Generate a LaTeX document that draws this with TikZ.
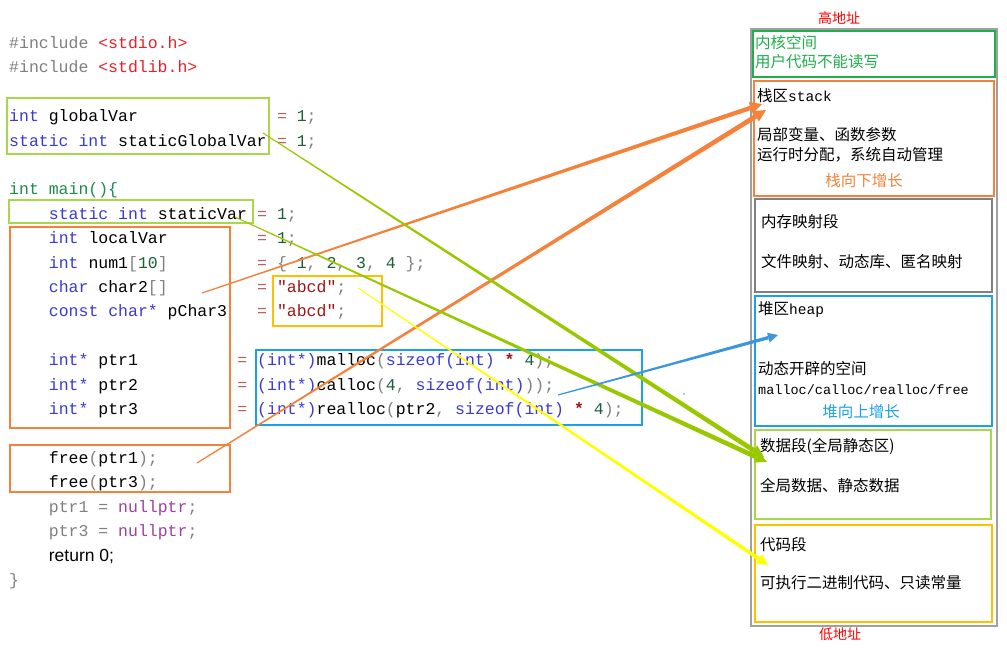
\documentclass[tikz,border=0pt]{standalone}
\usepackage{fontspec}
\usetikzlibrary{calc}
\setmainfont{Liberation Serif}
\newfontfamily\codefont{Liberation Mono}
\newfontfamily\cjk{Noto Sans CJK SC}
\newfontfamily\sansf{Liberation Sans}
\definecolor{kw}{HTML}{3B3BD0}
\definecolor{gr}{HTML}{1E8C4A}
\definecolor{gy}{HTML}{808080}
\definecolor{hd}{HTML}{E8202A}
\definecolor{eqc}{HTML}{B85C5C}
\definecolor{nm}{HTML}{1A5E3A}
\definecolor{st}{HTML}{A31515}
\definecolor{pu}{HTML}{A040A0}
\definecolor{ygreen}{HTML}{A8D84A}
\definecolor{agreen}{HTML}{99C800}
\definecolor{orng}{HTML}{F5823A}
\definecolor{gold}{HTML}{FFC000}
\definecolor{sky}{HTML}{1BA1E6}
\definecolor{kgreen}{HTML}{1FAF4B}
\definecolor{ayellow}{HTML}{FFFF00}
\definecolor{ablue}{HTML}{3C96DC}
\definecolor{outergray}{HTML}{A0A0A0}
\definecolor{mapgray}{HTML}{808080}
\newcommand\ckw[1]{\textcolor{kw}{#1}}
\newcommand\cgy[1]{\textcolor{gy}{#1}}
\newcommand\chd[1]{\textcolor{hd}{#1}}
\newcommand\ceq[1]{\textcolor{eqc}{#1}}
\newcommand\cnm[1]{\textcolor{nm}{#1}}
\newcommand\cst[1]{\textcolor{st}{#1}}
\newcommand\cpu[1]{\textcolor{pu}{#1}}
% tapered arrow: start, end, colour, start half width, end half width, head length, head half width
\newcommand\taper[7]{%
  \coordinate (tmpC) at ($(#2)!#6!(#1)$);
  \fill[#3] ($(#1)!#4!90:(#2)$) -- ($(tmpC)!#5!-90:(#1)$) -- ($(tmpC)!#5!90:(#1)$) -- ($(#1)!#4!-90:(#2)$) -- cycle;
  \fill[#3] ($(tmpC)!#7!-90:(#1)$) -- (#2) -- ($(tmpC)!#7!90:(#1)$) -- cycle;
}
\tikzset{
  code/.style={anchor=base west, inner sep=0pt, font=\codefont\fontsize{16.5}{18}\selectfont},
  cn/.style={anchor=west, inner sep=0pt, font=\cjk\fontsize{15.5}{18}\selectfont},
  cnc/.style={anchor=center, inner sep=0pt, font=\cjk\fontsize{15.5}{18}\selectfont},
  mono/.style={font=\codefont\fontsize{13.5}{16}\selectfont},
  codebox/.style={line width=1.5pt},
  membox/.style={line width=2pt},
}
\begin{document}
\begin{tikzpicture}[x=1pt,y=-1pt]
\useasboundingbox (0,0) rectangle (1007,652);
\fill[white] (0,0) rectangle (1007,652);

% ---------- code boxes ----------
\draw[codebox, ygreen] (7,98) rectangle (269,154);
\draw[codebox, ygreen] (9,200) rectangle (253,223);
\draw[codebox, orng] (10,227) rectangle (230,428);
\draw[codebox, gold] (273,276) rectangle (382,326);
\draw[codebox, sky] (256,350) rectangle (642,425);
\draw[codebox, orng] (10,445) rectangle (230,492);

% ---------- code ----------
\node[code] (l0) at (9,48.5) {\cgy{\#include} \chd{<stdio.h>}};
\node[code] (l1) at (9,72.9) {\cgy{\#include} \chd{<stdlib.h>}};
\node[code] (l3) at (9,121.7) {\ckw{int} globalVar};
\node[code] (e3) at (276.8,121.7) {\ceq{=} \cnm{1}\cgy{;}};
\node[code] (l4) at (9,146.1) {\ckw{static int} staticGlobalVar};
\node[code] (e4) at (276.8,146.1) {\ceq{=} \cnm{1}\cgy{;}};
\node[code] (l6) at (9,194.9) {\textcolor{gr}{int main()\{}};
\node[code] (l7) at (48.7,219.3) {\ckw{static int} staticVar};
\node[code] (e7) at (257,219.3) {\ceq{=} \cnm{1}\cgy{;}};
\node[code] (l8) at (48.7,243.7) {\ckw{int} localVar};
\node[code] (e8) at (257,243.7) {\ceq{=} \cnm{1}\cgy{;}};
\node[code] (l9) at (48.7,268.1) {\ckw{int} num1\cgy{[}\cnm{10}\cgy{]}};
\node[code] (e9) at (257,268.1) {\ceq{=} \cgy{\{} \cnm{1}\cgy{,} \cnm{2}\cgy{,} \cnm{3}\cgy{,} \cnm{4} \cgy{\};}};
\node[code] (l10) at (48.7,292.5) {\ckw{char} char2\cgy{[]}};
\node[code] (e10) at (257,292.5) {\ceq{=} \cst{"abcd"}\cgy{;}};
\node[code] (l11) at (48.7,316.9) {\ckw{const char*} pChar3};
\node[code] (e11) at (257,316.9) {\ceq{=} \cst{"abcd"}\cgy{;}};
\node[code] (l13) at (48.7,365.7) {\ckw{int*} ptr1};
\node[code] (e13) at (237.2,365.7) {\ceq{=} \ckw{(int*)}malloc\cgy{(}\ckw{sizeof(int)} \cst{\textbf{*}} \cnm{4}\cgy{);}};
\node[code] (l14) at (48.7,390.1) {\ckw{int*} ptr2};
\node[code] (e14) at (237.2,390.1) {\ceq{=} \ckw{(int*)}calloc\cgy{(}\cnm{4}\cgy{,} \ckw{sizeof(int)}\cgy{));}};
\node[code] (l15) at (48.7,414.5) {\ckw{int*} ptr3};
\node[code] (e15) at (237.2,414.5) {\ceq{=} \ckw{(int*)}realloc\cgy{(}ptr2\cgy{,} \ckw{sizeof(int)} \cst{\textbf{*}} \cnm{4}\cgy{);}};
\node[code] (l17) at (48.7,463.3) {free\cgy{(}ptr1\cgy{);}};
\node[code] (l18) at (48.7,487.7) {free\cgy{(}ptr3\cgy{);}};
\node[code] (l19) at (48.7,512.1) {\cgy{ptr1 =} \cpu{nullptr}\cgy{;}};
\node[code] (l20) at (48.7,536.5) {\cgy{ptr3 =} \cpu{nullptr}\cgy{;}};
\node[code, font=\sansf\fontsize{17.5}{20}\selectfont] (l21) at (48.7,561.5) {return 0;};
\node[code] (l22) at (9,585.3) {\cgy{\}}};

% ---------- memory layout ----------
\draw[line width=1.5pt, outergray] (751,29) rectangle (997,626);
\draw[membox, kgreen] (753,31) rectangle (995,77);
\draw[membox, orng] (754,81) rectangle (994,196);
\draw[membox, mapgray] (755,199) rectangle (992,292);
\draw[membox, sky] (755,296) rectangle (992,426);
\draw[membox, ygreen] (755,430) rectangle (991,519);
\draw[membox, gold] (755,525) rectangle (992,622);

\node[cnc, text=red, font=\cjk\fontsize{14}{16}\selectfont] (hi) at (839,18) {高地址};
\node[cnc, text=red, font=\cjk\fontsize{14}{16}\selectfont] (lo) at (840,634) {低地址};

\node[cn, text=kgreen] (k1) at (755,43) {内核空间};
\node[cn, text=kgreen] (k2) at (755,62) {用户代码不能读写};
\node[cn] (s1) at (757,96) {栈区{\codefont\fontsize{14.5}{16}\selectfont stack}};
\node[cn] (s2) at (757,135) {局部变量、函数参数};
\node[cn] (s3) at (757,155) {运行时分配，系统自动管理};
\node[cnc, text=orng] (s4) at (864,181) {栈向下增长};
\node[cn] (m1) at (761,222) {内存映射段};
\node[cn] (m2) at (761,262) {文件映射、动态库、匿名映射};
\node[cn] (h1) at (758,310) {堆区{\codefont\fontsize{14.5}{16}\selectfont heap}};
\node[cn] (h2) at (758,369) {动态开辟的空间};
\node[anchor=west, inner sep=0pt, mono] (h3) at (758,390) {malloc/calloc/realloc/free};
\node[cnc, text=sky] (h4) at (861,412) {堆向上增长};
\node[cn] (d1) at (760,446) {数据段(全局静态区)};
\node[cn] (d2) at (760,486) {全局数据、静态数据};
\node[cn] (c1) at (760,545) {代码段};
\node[cn] (c2) at (760,583) {可执行二进制代码、只读常量};

% ---------- arrows ----------
\coordinate (o1s) at (202,293);
\coordinate (o1e) at (762,104);
\coordinate (o2s) at (197,463);
\coordinate (o2e) at (766,110);
\coordinate (g1s) at (263,133);
\coordinate (g1e) at (764,457);
\coordinate (g2s) at (235,217);
\coordinate (g2e) at (767,462);
\coordinate (ys) at (358,288);
\coordinate (ye) at (768,565);
\coordinate (bs) at (558,395);
\coordinate (be) at (778,335);

\taper{o1s}{o1e}{orng}{0.6pt}{2.2pt}{12pt}{6pt}
\taper{o2s}{o2e}{orng}{0.6pt}{2.4pt}{12pt}{6pt}
\taper{g1s}{g1e}{agreen}{0.5pt}{2.4pt}{12pt}{6pt}
\taper{g2s}{g2e}{agreen}{0.5pt}{2.4pt}{12pt}{6pt}
\taper{ys}{ye}{ayellow}{0.5pt}{1.8pt}{11pt}{5.5pt}
\taper{bs}{be}{ablue}{0.6pt}{1.7pt}{10pt}{5pt}
\fill[sky] (684,394) circle (0.8);
\end{tikzpicture}
\end{document}
